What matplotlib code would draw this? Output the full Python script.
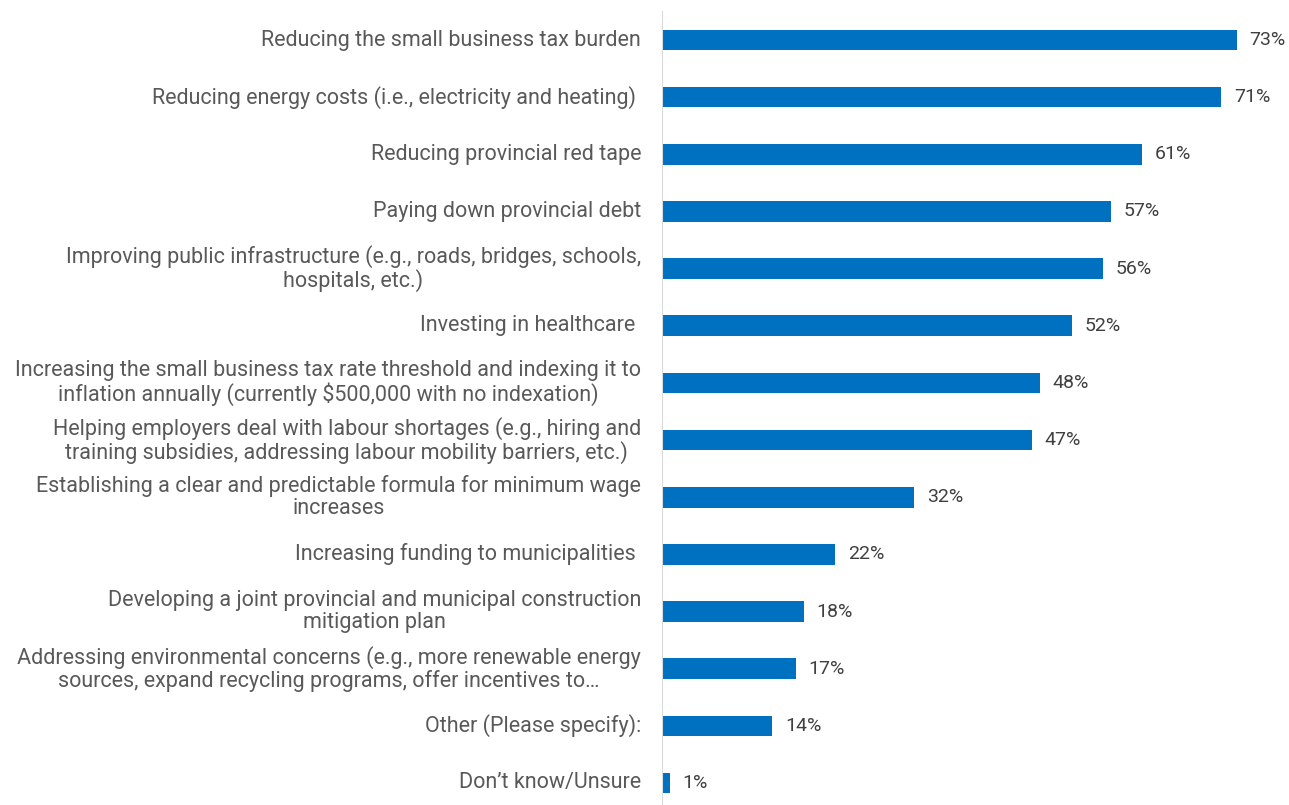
import matplotlib
matplotlib.use("Agg")
from matplotlib import pyplot as plt

categorias = [
    "Reducing the small business tax burden",
    "Reducing energy costs (i.e., electricity and heating) ",
    "Reducing provincial red tape",
    "Paying down provincial debt",
    "Improving public infrastructure (e.g., roads, bridges, schools,\nhospitals, etc.)",
    "Investing in healthcare ",
    "Increasing the small business tax rate threshold and indexing it to\ninflation annually (currently $500,000 with no indexation)",
    "Helping employers deal with labour shortages (e.g., hiring and\ntraining subsidies, addressing labour mobility barriers, etc.)",
    "Establishing a clear and predictable formula for minimum wage\nincreases",
    "Increasing funding to municipalities ",
    "Developing a joint provincial and municipal construction\nmitigation plan",
    "Addressing environmental concerns (e.g., more renewable energy\nsources, expand recycling programs, offer incentives to…",
    "Other (Please specify):",
    "Don’t know/Unsure",
]
porcentajes = [73, 71, 61, 57, 56, 52, 48, 47, 32, 22, 18, 17, 14, 1]

plt.rcParams["font.family"] = ["Roboto", "DejaVu Sans"]

fig = plt.figure(figsize=(12.89, 8.05), dpi=100)
ax = fig.add_axes([662 / 1289, 0, 1 - 662 / 1289, 1])

posiciones = list(range(len(categorias)))
ax.barh(posiciones, porcentajes, height=0.36, color="#0070C0")
ax.set_xlim(0, 627 / 7.877)
ax.set_ylim(13 + 22 / 57.15, -40 / 57.15)

for p, v in zip(posiciones, porcentajes):
    ax.text(v + 1.6, p, f"{v}%", va="center", ha="left", fontsize=14, color="#404040")
    ax.text(-21 / 7.877, p, categorias[p], va="center", ha="right", fontsize=15.5,
            color="#595959", linespacing=1.05, multialignment="center")

for lado in ["top", "right", "bottom", "left"]:
    ax.spines[lado].set_visible(False)
ax.axvline(0, ymin=0, ymax=1 - 12 / 805, color="#D9D9D9", linewidth=1.5)
ax.set_xticks([])
ax.set_yticks([])

fig.savefig("out.png", dpi=100, facecolor="white")
